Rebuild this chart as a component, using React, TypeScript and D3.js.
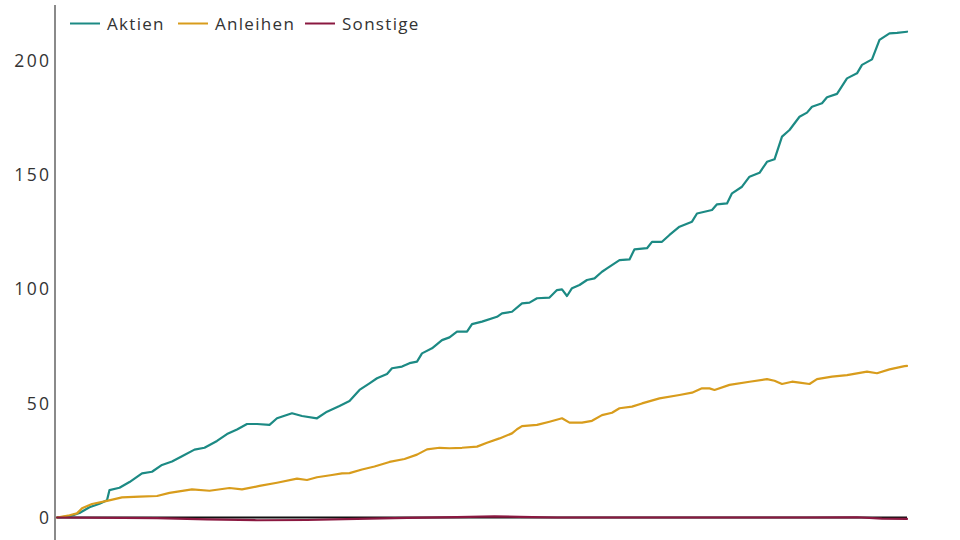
import React from "react";
import * as d3 from "d3";

const seriesNames = ["Aktien", "Anleihen", "Sonstige"];
const seriesColors = ["#1c8a84", "#d89c1c", "#8a1840"];

// month index since start, value
const aktienMonths = [0,5,9,13,17,20,21,25,29,34,38,42,46,50,55,59,64,68,72,76,80,85,88,94,98,104,108,113,117,121,125,128,132,134,138,141,144,146,150,154,157,160,164,166,170,176,178,182,186,189,192,197,200,202,204,206,209,212,215,218,220,225,229,231,236,238,242,245,249,254,256,262,264,268,270,274,277,281,284,287,290,293,297,300,302,306,308,312,316,320,322,326,329,333,336,340];
const aktienValues = [0,0.5,2,4.5,6,7.5,12,13,15.5,19.3,20,23,24.5,26.8,29.7,30.5,33.5,36.5,38.5,40.9,40.9,40.5,43.4,45.6,44.4,43.4,46.3,48.8,51,55.8,58.7,60.9,62.8,65.3,66,67.5,68.2,71.8,74,77.6,78.8,81.3,81.3,84.6,85.7,87.8,89.3,90,93.7,94,95.9,96.2,99.5,99.8,96.9,100.3,101.7,103.9,104.6,107.5,109,112.6,112.9,117.3,117.8,120.6,120.6,123.6,127.2,129.4,133,134.5,137,137.4,141.8,144.7,149.1,150.8,155.6,156.7,166.6,169.5,175.3,177.1,179.7,181.2,183.8,185.3,192.1,194.3,198,200.4,208.9,211.8,212,212.5];

const anleihenMonths = [0,5,8,10,14,20,26,33,40,45,54,61,69,74,81,88,96,100,104,110,114,117,122,127,133,139,144,148,153,157,162,168,172,177,182,184,186,192,197,202,205,210,214,218,222,225,230,234,241,249,254,258,261,263,269,277,284,287,290,294,297,301,304,310,316,324,328,333,339,340];
const anleihenValues = [0,1,1.8,4,5.9,7.3,8.8,9.1,9.4,10.8,12.3,11.7,12.9,12.3,13.8,15.2,17,16.4,17.6,18.6,19.3,19.4,21,22.3,24.3,25.6,27.5,29.8,30.5,30.3,30.5,31,32.7,34.6,36.8,38.6,40,40.5,41.9,43.4,41.5,41.5,42.3,44.8,45.8,47.8,48.5,49.9,52.1,53.6,54.6,56.5,56.5,55.8,58,59.4,60.5,59.8,58.4,59.4,59,58.4,60.5,61.6,62.3,63.8,63.1,64.8,66.2,66.3];

const sonstigeMonths = [0,40,60,80,100,120,140,160,175,185,200,260,300,320,330,340];
const sonstigeValues = [0,-0.3,-0.8,-1.2,-1.1,-0.6,-0.2,0.2,0.5,0.3,0,0,0,0.1,-0.5,-0.6];

const yTicks = [0, 50, 100, 150, 200];
const monthDomain = [0, 340];

const FONT = "'Open Sans', 'DejaVu Sans', sans-serif";

export default function App() {
  const width = 960;
  const height = 540;
  const x = d3.scaleLinear().domain(monthDomain).range([57, 907]);
  const y = d3.scaleLinear().domain([0, 200]).range([517.5, 60.3]);

  const line = d3
    .line<[number, number]>()
    .x((d) => x(d[0]))
    .y((d) => y(d[1]))
    .curve(d3.curveLinear);

  const series = [
    aktienMonths.map((m, i) => [m, aktienValues[i]] as [number, number]),
    anleihenMonths.map((m, i) => [m, anleihenValues[i]] as [number, number]),
    sonstigeMonths.map((m, i) => [m, sonstigeValues[i]] as [number, number]),
  ];

  const legendX = [70, 178, 305];

  return (
    <svg
      width={width}
      height={height}
      style={{ position: "absolute", left: 0, top: 0, background: "#fff" }}
      fontFamily={FONT}
    >
      {/* y axis */}
      <line x1={55} x2={55} y1={5} y2={540} stroke="#8a8a8a" strokeWidth={2} />
      {yTicks.map((t) => (
        <text
          key={t}
          x={51.5}
          y={y(t)}
          dy="0.36em"
          textAnchor="end"
          fontSize={17.5}
          letterSpacing={2.4}
          fill="#333"
        >
          {t}
        </text>
      ))}
      {/* zero line */}
      <line x1={x(monthDomain[0])} x2={x(monthDomain[1])} y1={y(0)} y2={y(0)} stroke="#111" strokeWidth={2} />
      {/* series lines */}
      {series.map((s, i) => (
        <path
          key={seriesNames[i]}
          d={line(s) || ""}
          fill="none"
          stroke={seriesColors[i]}
          strokeWidth={2.2}
          strokeLinejoin="round"
          strokeLinecap="round"
        />
      ))}
      {/* legend */}
      {seriesNames.map((n, i) => (
        <g key={n} transform={`translate(${legendX[i]},23.5)`}>
          <line x1={0} x2={30} y1={0} y2={0} stroke={seriesColors[i]} strokeWidth={2} />
          <text x={37} y={0} dy="0.36em" fontSize={17} letterSpacing={1.3} fill="#333">
            {n}
          </text>
        </g>
      ))}
    </svg>
  );
}
